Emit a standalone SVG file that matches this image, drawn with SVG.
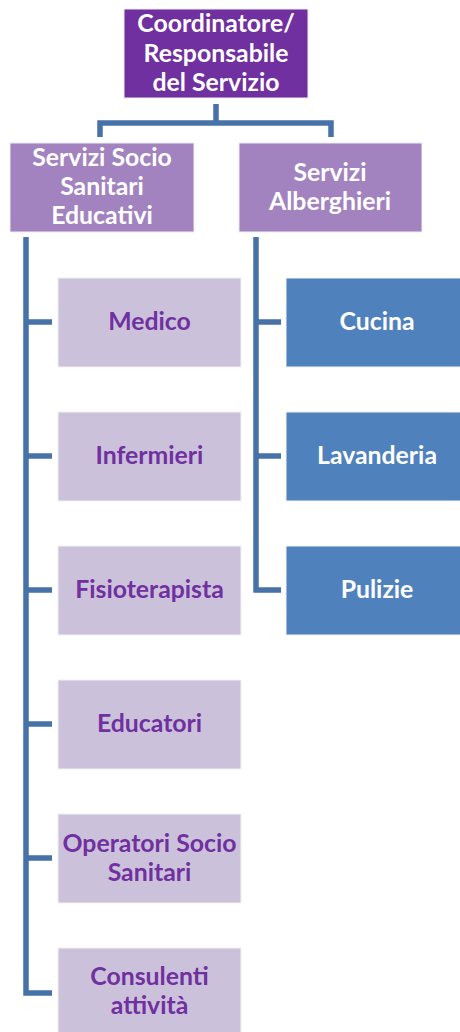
<svg xmlns="http://www.w3.org/2000/svg" width="460" height="1032" viewBox="0 0 460 1032">
<style>
.t{font-family:Lato,"Liberation Sans",sans-serif;font-weight:bold;font-size:24.8px;text-anchor:middle}
.w{fill:#ffffff}
.p{fill:#7030A0}
.top{fill:#7030A0;stroke:#eeeeee;stroke-width:1}
.mid{fill:#A283C0;stroke:#eeeeee;stroke-width:1}
.sub{fill:#CBC1DA;stroke:#f2f2f2;stroke-width:1}
.blu{fill:#4F81BD;stroke:#f2f2f2;stroke-width:1}
.c{fill:none;stroke:#4672A8;stroke-width:5.5}
</style>
<g id="connectors">
<path class="c" d="M216 104 V123 M100 137 V123 H331 V137"/>
<path class="c" d="M26 237 V993 H52 M26 322 H52 M26 456 H52 M26 590 H52 M26 724 H52 M26 858 H52"/>
<path class="c" d="M256 237 V590 H281 M256 322 H281 M256 456 H281"/>
</g>
<g id="coordinatore"><rect class="top" x="124" y="9" width="184" height="89"/>
<text class="t w" x="216" y="32">Coordinatore/</text><text class="t w" x="216" y="62">Responsabile</text><text class="t w" x="216" y="91">del Servizio</text></g>
<g id="ssse"><rect class="mid" x="10" y="143" width="184" height="89"/>
<text class="t w" x="102" y="166">Servizi Socio</text><text class="t w" x="102" y="195">Sanitari</text><text class="t w" x="102" y="224">Educativi</text></g>
<g id="alberghieri"><rect class="mid" x="239" y="143" width="183" height="89"/>
<text class="t w" x="330" y="181">Servizi</text><text class="t w" x="330" y="210">Alberghieri</text></g>
<g id="medico"><rect class="sub" x="58" y="278" width="183" height="89"/><text class="t p" x="149.5" y="330">Medico</text></g>
<g id="infermieri"><rect class="sub" x="58" y="412" width="183" height="89"/><text class="t p" x="149.5" y="464">Infermieri</text></g>
<g id="fisioterapista"><rect class="sub" x="58" y="546" width="183" height="89"/><text class="t p" x="149.5" y="598">Fisioterapista</text></g>
<g id="educatori"><rect class="sub" x="58" y="680" width="183" height="89"/><text class="t p" x="149.5" y="732">Educatori</text></g>
<g id="oss"><rect class="sub" x="58" y="814" width="183" height="89"/><text class="t p" x="149.5" y="852">Operatori Socio</text><text class="t p" x="149.5" y="881">Sanitari</text></g>
<g id="consulenti"><rect class="sub" x="58" y="948" width="183" height="89"/><text class="t p" x="149.5" y="985">Consulenti</text><text class="t p" x="149.5" y="1014">attività</text></g>
<g id="cucina"><rect class="blu" x="286" y="278" width="183" height="89"/><text class="t w" x="377" y="330">Cucina</text></g>
<g id="lavanderia"><rect class="blu" x="286" y="412" width="183" height="89"/><text class="t w" x="377" y="464">Lavanderia</text></g>
<g id="pulizie"><rect class="blu" x="286" y="546" width="183" height="89"/><text class="t w" x="377" y="598">Pulizie</text></g>
</svg>
